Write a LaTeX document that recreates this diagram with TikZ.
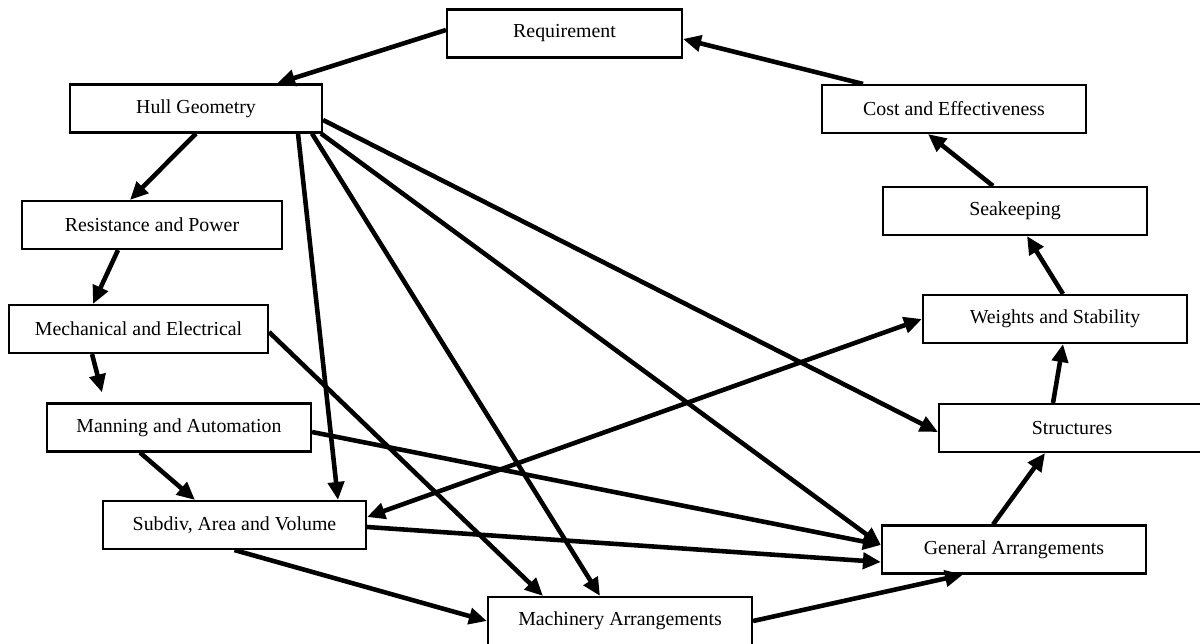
\documentclass[tikz,border=0pt]{standalone}
\usepackage{fontspec}
\setmainfont{Liberation Serif}
\usetikzlibrary{arrows.meta}

\begin{document}
\begin{tikzpicture}[x=0.2mm, y=-0.2mm,
    box/.style={draw, line width=1.2pt, inner sep=0pt, minimum height=9.6mm,
      font=\fontsize{11.3}{13}\selectfont},
    link/.style={-{Triangle[length=3.6mm, width=3.2mm]}, line width=2.6pt},
    both/.style={{Triangle[length=3.6mm, width=3.2mm]}-{Triangle[length=3.6mm, width=3.2mm]}, line width=2.6pt}]
    \useasboundingbox (0,0) rectangle (1200,643);

    % Top
    \node[box, minimum width=47mm] (req) at (564.5,33.5) {Requirement};

    % Left column
    \node[box, minimum width=50.4mm] (hull) at (196,108.5) {Hull Geometry};
    \node[box, minimum width=52mm] (res) at (152,225) {Resistance and Power};
    \node[box, minimum width=51.8mm] (mech) at (138.5,329) {Mechanical and Electrical};
    \node[box, minimum width=52.8mm] (man) at (179,427.5) {Manning and Automation};
    \node[box, minimum width=52.6mm] (sub) at (234.5,525) {Subdiv, Area and Volume};

    % Bottom
    \node[box, minimum width=52.8mm] (mach) at (620,621) {Machinery Arrangements};

    % Right column
    \node[box, minimum width=52.8mm] (cost) at (954,109) {Cost and Effectiveness};
    \node[box, minimum width=52.8mm] (sea) at (1015,211) {Seakeeping};
    \node[box, minimum width=52.8mm] (wts) at (1055,319) {Weights and Stability};
    \node[box, minimum width=53.2mm] (str) at (1072,428) {Structures};
    \node[box, minimum width=52.8mm] (gen) at (1014,549.5) {General Arrangements};

    % Outer loop
    \draw[link] ([yshift=0.7mm]req.west) -- ([xshift=16.2mm]hull.north);
    \draw[link] (hull.south) -- ([xshift=-4.4mm]res.north);
    \draw[link] ([xshift=-6.8mm]res.south) -- ([xshift=-9.1mm]mech.north);
    \draw[link] ([xshift=-9.3mm]mech.south) -- ([xshift=-15.4mm, yshift=2mm]man.north);
    \draw[link] ([xshift=-7.8mm]man.south) -- ([xshift=-7.9mm]sub.north);
    \draw[link] (sub.south) -- (mach.west);
    \draw[link] (mach.east) -- ([xshift=-10.2mm]gen.south);
    \draw[link] ([xshift=-4.2mm]gen.north) -- ([xshift=-5.4mm]str.south);
    \draw[link] ([xshift=-3.8mm]str.north) -- ([xshift=1.6mm]wts.south);
    \draw[link] ([xshift=1.6mm]wts.north) -- ([xshift=2.4mm]sea.south);
    \draw[link] ([xshift=-4.4mm]sea.north) -- ([xshift=-5.2mm]cost.south);
    \draw[link] ([xshift=-18.2mm]cost.north) -- ([yshift=-1.1mm]req.east);

    % From Hull Geometry
    \draw[link] ([xshift=20.4mm]hull.south) -- ([xshift=20.7mm]sub.north);
    \draw[link] ([xshift=23.2mm]hull.south) -- ([xshift=-4mm]mach.north);
    \draw[link] ([xshift=-0.4mm]hull.south east) -- ([yshift=0.9mm]gen.west);
    \draw[link] ([yshift=-2.3mm]hull.east) -- ([yshift=-0.8mm]str.west);

    % Cross links
    \draw[link] ([yshift=-0.6mm]mech.east) -- ([xshift=-15.4mm]mach.north);
    \draw[link] ([yshift=-0.9mm]man.east) -- ([yshift=0.9mm]gen.west);
    \draw[link] ([yshift=-0.4mm]sub.east) -- ([yshift=-2.5mm]gen.west);
    \draw[both] ([yshift=1.6mm]sub.east) -- (wts.west);
\end{tikzpicture}
\end{document}
